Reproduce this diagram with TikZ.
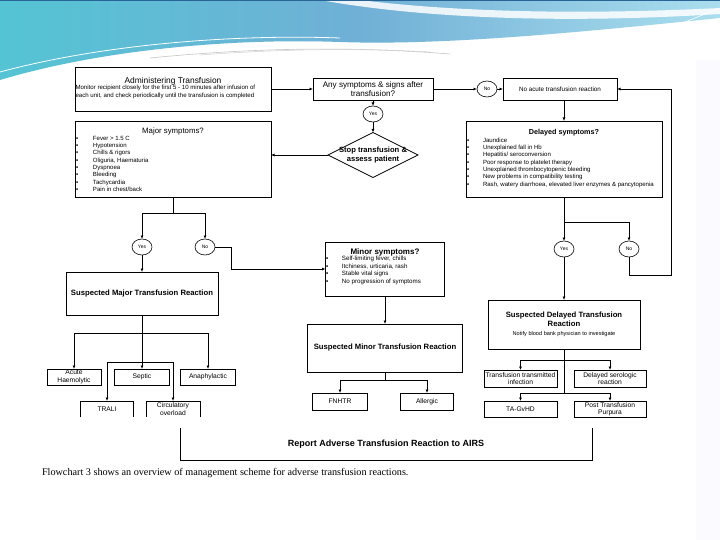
\documentclass[tikz,border=0pt]{standalone}
\usepackage{fontspec}
\setmainfont{Liberation Sans}
\newfontfamily\capfont{Liberation Serif}
\usetikzlibrary{arrows.meta,shapes.geometric,calc}
\definecolor{bandA}{RGB}{84,196,212}
\definecolor{bandB}{RGB}{112,176,214}
\definecolor{bandC}{RGB}{170,222,238}
\definecolor{topline}{RGB}{40,100,150}
\begin{document}
\begin{tikzpicture}[x=1pt,y=-1pt,
  every node/.style={inner sep=0pt,outer sep=0pt},
  box/.style={draw,line width=0.7pt,fill=white,rectangle},
  obox/.style={rectangle},
  conn/.style={line width=0.7pt},
  arr/.style={conn,-{Latex[length=3.5pt,width=3pt]}},
  yn/.style={draw,ellipse,line width=0.6pt,minimum width=20pt,minimum height=16pt,font=\fontsize{5}{6}\selectfont},
  small/.style={font=\fontsize{6.7}{7.4}\selectfont,align=center},
  bul/.style={font=\fontsize{6.05}{7.3}\selectfont,align=left,anchor=north west},
  ttl/.style={font=\bfseries\fontsize{7.2}{8.5}\selectfont,align=center},
  sus/.style={font=\bfseries\fontsize{7.7}{9}\selectfont,align=center}
]
\useasboundingbox (0,0) rectangle (720,540);
\fill[white] (0,0) rectangle (720,540);
% decorative band
\shade[left color=bandA,right color=bandC,middle color=bandB] (0,0) -- (720,0) -- (720,18) .. controls (600,30) and (450,46) .. (340,42) .. controls (230,38) and (100,50) .. (0,80) -- cycle;
\fill[white,opacity=0.85] (320,0) .. controls (420,18) and (560,24) .. (720,14) -- (720,8) .. controls (560,16) and (440,10) .. (360,0) -- cycle;
\draw[white,line width=0.8pt] (0,72) .. controls (100,45) and (230,34) .. (340,38);
\draw[gray!45,line width=0.6pt] (150,58) .. controls (250,48) and (350,46) .. (450,54);
\draw[gray!35,line width=0.5pt] (200,55) .. controls (280,49) and (360,48) .. (430,52);
\draw[white,line width=0.6pt] (640,40) -- (720,8);
\draw[white,line width=0.6pt] (660,42) -- (720,18);
\fill[topline] (0,0) rectangle (720,1.5);
\fill[blue!2] (696,60) rectangle (720,540);
% ---------- boxes ----------
\node[box,minimum width=196pt,minimum height=44pt] (adm) at (173,89) {};
\node[font=\fontsize{8.4}{9}\selectfont] (admT) at (173,81) {Administering Transfusion};
\node[font=\fontsize{6.1}{7.2}\selectfont,align=left,anchor=north west] (admB) at (75.5,85.5) {Monitor recipient closely for the first 5 - 10 minutes after infusion of\\each unit, and check periodically until the transfusion is completed};
\node[box,minimum width=120pt,minimum height=22pt,font=\fontsize{8.1}{8.6}\selectfont,align=center] (any) at (373,89) {Any symptoms \& signs after\\transfusion?};
\node[yn] (no1) at (487,89) {No};
\node[box,minimum width=114pt,minimum height=22pt,font=\fontsize{6.3}{7}\selectfont] (noacute) at (560,89) {No acute transfusion reaction};
\node[yn] (yes1) at (373,114) {Yes};
\node[draw,diamond,aspect=2,line width=0.7pt,minimum width=90pt,minimum height=45pt,fill=white] (stop) at (373,155) {};
\node[font=\bfseries\fontsize{7.6}{8.8}\selectfont,align=center] (stopT) at (373,155) {Stop transfusion \&\\assess patient};
\node[box,minimum width=196pt,minimum height=76pt] (major) at (173,159) {};
\node[font=\fontsize{7.8}{9}\selectfont] (majorT) at (173,131) {Major symptoms?};
\node[bul] (majorB) at (76,136) {\makebox[17pt][l]{▪}Fever > 1.5 C\\\makebox[17pt][l]{▪}Hypotension\\\makebox[17pt][l]{▪}Chills \& rigors\\\makebox[17pt][l]{▪}Oliguria, Haematuria\\\makebox[17pt][l]{▪}Dyspnoea\\\makebox[17pt][l]{▪}Bleeding\\\makebox[17pt][l]{▪}Tachycardia\\\makebox[17pt][l]{▪}Pain in chest/back};
\node[box,minimum width=196pt,minimum height=76pt] (delayed) at (564,159) {};
\node[ttl] (delayedT) at (564,133) {Delayed symptoms?};
\node[bul] (delayedB) at (467,138) {\makebox[16pt][l]{▪}Jaundice\\\makebox[16pt][l]{▪}Unexplained fall in Hb\\\makebox[16pt][l]{▪}Hepatitis/ seroconversion\\\makebox[16pt][l]{▪}Poor response to platelet therapy\\\makebox[16pt][l]{▪}Unexplained thrombocytopenic bleeding\\\makebox[16pt][l]{▪}New problems in compatibility testing\\\makebox[16pt][l]{▪}Rash, watery diarrhoea, elevated liver enzymes \& pancytopenia};
\node[yn] (yesL) at (142,247) {Yes};
\node[yn] (noL) at (205,247) {No};
\node[yn] (yesR) at (564,249) {Yes};
\node[yn] (noR) at (629,249) {No};
\node[box,minimum width=152pt,minimum height=43pt,sus] (smaj) at (142,293.5) {Suspected Major Transfusion Reaction};
\node[box,minimum width=119pt,minimum height=54pt] (minor) at (385,269) {};
\node[ttl,font=\bfseries\fontsize{8}{9}\selectfont] (minorT) at (385,252) {Minor symptoms?};
\node[bul,font=\fontsize{6.2}{7.4}\selectfont] (minorB) at (326,256.5) {\makebox[16pt][l]{▪}Self-limiting fever, chills\\\makebox[16pt][l]{▪}Itchiness, urticaria, rash\\\makebox[16pt][l]{▪}Stable vital signs\\\makebox[16pt][l]{▪}No progression of symptoms};
\node[box,minimum width=155pt,minimum height=48pt,sus] (smin) at (385,348) {Suspected Minor Transfusion Reaction};
\node[box,minimum width=152pt,minimum height=49pt] (sdel) at (564,324.5) {};
\node[sus] (sdelT) at (564,319.5) {Suspected Delayed Transfusion\\Reaction};
\node[font=\fontsize{5.6}{7}\selectfont] (sdelN) at (564,334.5) {Notify blood bank physician to investigate};
\node[box,minimum width=54pt,minimum height=16pt,small] (acute) at (74,377) {Acute\\Haemolytic};
\node[box,minimum width=55pt,minimum height=16pt,small] (septic) at (142,377) {Septic};
\node[box,minimum width=55pt,minimum height=16pt,small] (anaph) at (208,377) {Anaphylactic};
\node[obox,minimum width=53pt,minimum height=16pt,small] (trali) at (107,409) {TRALI};
\node[obox,minimum width=54pt,minimum height=16pt,small] (circ) at (173,409) {Circulatory\\overload};
\draw[line width=0.7pt] (trali.south west) |- (trali.north east) -- (trali.south east);
\draw[line width=0.7pt] (circ.south west) |- (circ.north east) -- (circ.south east);
\node[box,minimum width=55pt,minimum height=17pt,small] (fnhtr) at (340,401.5) {FNHTR};
\node[box,minimum width=53pt,minimum height=17pt,small] (allergic) at (427,401.5) {Allergic};
\node[box,minimum width=73pt,minimum height=17pt,small] (tti) at (520.5,378.5) {Transfusion transmitted\\infection};
\node[box,minimum width=72pt,minimum height=17pt,small] (dsr) at (610,378.5) {Delayed serologic\\reaction};
\node[box,minimum width=73pt,minimum height=16pt,small] (tag) at (520.5,409) {TA-GvHD};
\node[box,minimum width=72pt,minimum height=16pt,small] (ptp) at (610,409) {Post Transfusion\\Purpura};
\node[obox,minimum width=412pt,minimum height=33pt,font=\bfseries\fontsize{9}{10}\selectfont] (report) at (386,444) {Report Adverse Transfusion Reaction to AIRS};
\draw[line width=0.7pt] (report.north west) -- (report.south west) -- (report.south east) -- (report.north east);
\node[anchor=west,font=\capfont\fontsize{10.2}{12}\selectfont] (cap) at (42,473) {Flowchart 3 shows an overview of management scheme for adverse transfusion reactions.};
% ---------- connectors ----------
\draw[arr] (adm.east) -- (any.west);
\draw[arr] (any.east) -- (no1.west);
\draw[arr] (no1.east) -- (noacute.west);
\draw[arr] (any.south) -- (yes1.north);
\draw[arr] (yes1.south) -- (stop.north);
\draw[arr] (stop.west) -- (stop.west -| major.east);
\draw[arr] (delayed.north |- noacute.south) -- (delayed.north);
\coordinate (dB) at (564,222);
\draw[arr] (delayed.south) -- (yesR.north);
\draw[arr] (dB) -| (noR.north);
\coordinate (lp) at (671,275);
\draw[arr] (noR.south) |- (lp) |- (noacute.east);
\draw[arr] (yesR.south) -- (sdel.north);
\coordinate (sdB1) at (564,360);
\coordinate (sdB2) at (564,393);
\draw[conn] (sdel.south) -- (sdB2);
\draw[arr] (sdB1) -| (tti.north);
\draw[arr] (sdB1) -| (dsr.north);
\draw[arr] (sdB2) -| (tag.north);
\draw[arr] (sdB2) -| (ptp.north);
\coordinate (mB) at (173,213);
\draw[conn] (major.south) -- (mB);
\draw[arr] (mB) -| (yesL.north);
\draw[arr] (mB) -| (noL.north);
\draw[arr] (yesL.south) -- (smaj.north);
\coordinate (nL) at (231,247);
\draw[arr] (noL.east) -- (nL) |- (minor.west);
\draw[arr] (minor.south) -- (smin.north);
\coordinate (smB) at (385,380);
\draw[conn] (smin.south) -- (smB);
\draw[arr] (smB) -| (fnhtr.north);
\draw[arr] (smB) -| (allergic.north);
\coordinate (mjB1) at (142,333);
\coordinate (mjB2) at (142,362);
\draw[arr] (smaj.south) -- (septic.north);
\draw[arr] (mjB1) -| (acute.north);
\draw[arr] (mjB1) -| (anaph.north);
\draw[arr] (mjB2) -| (trali.north);
\draw[arr] (mjB2) -| (circ.north);
\end{tikzpicture}
\end{document}
